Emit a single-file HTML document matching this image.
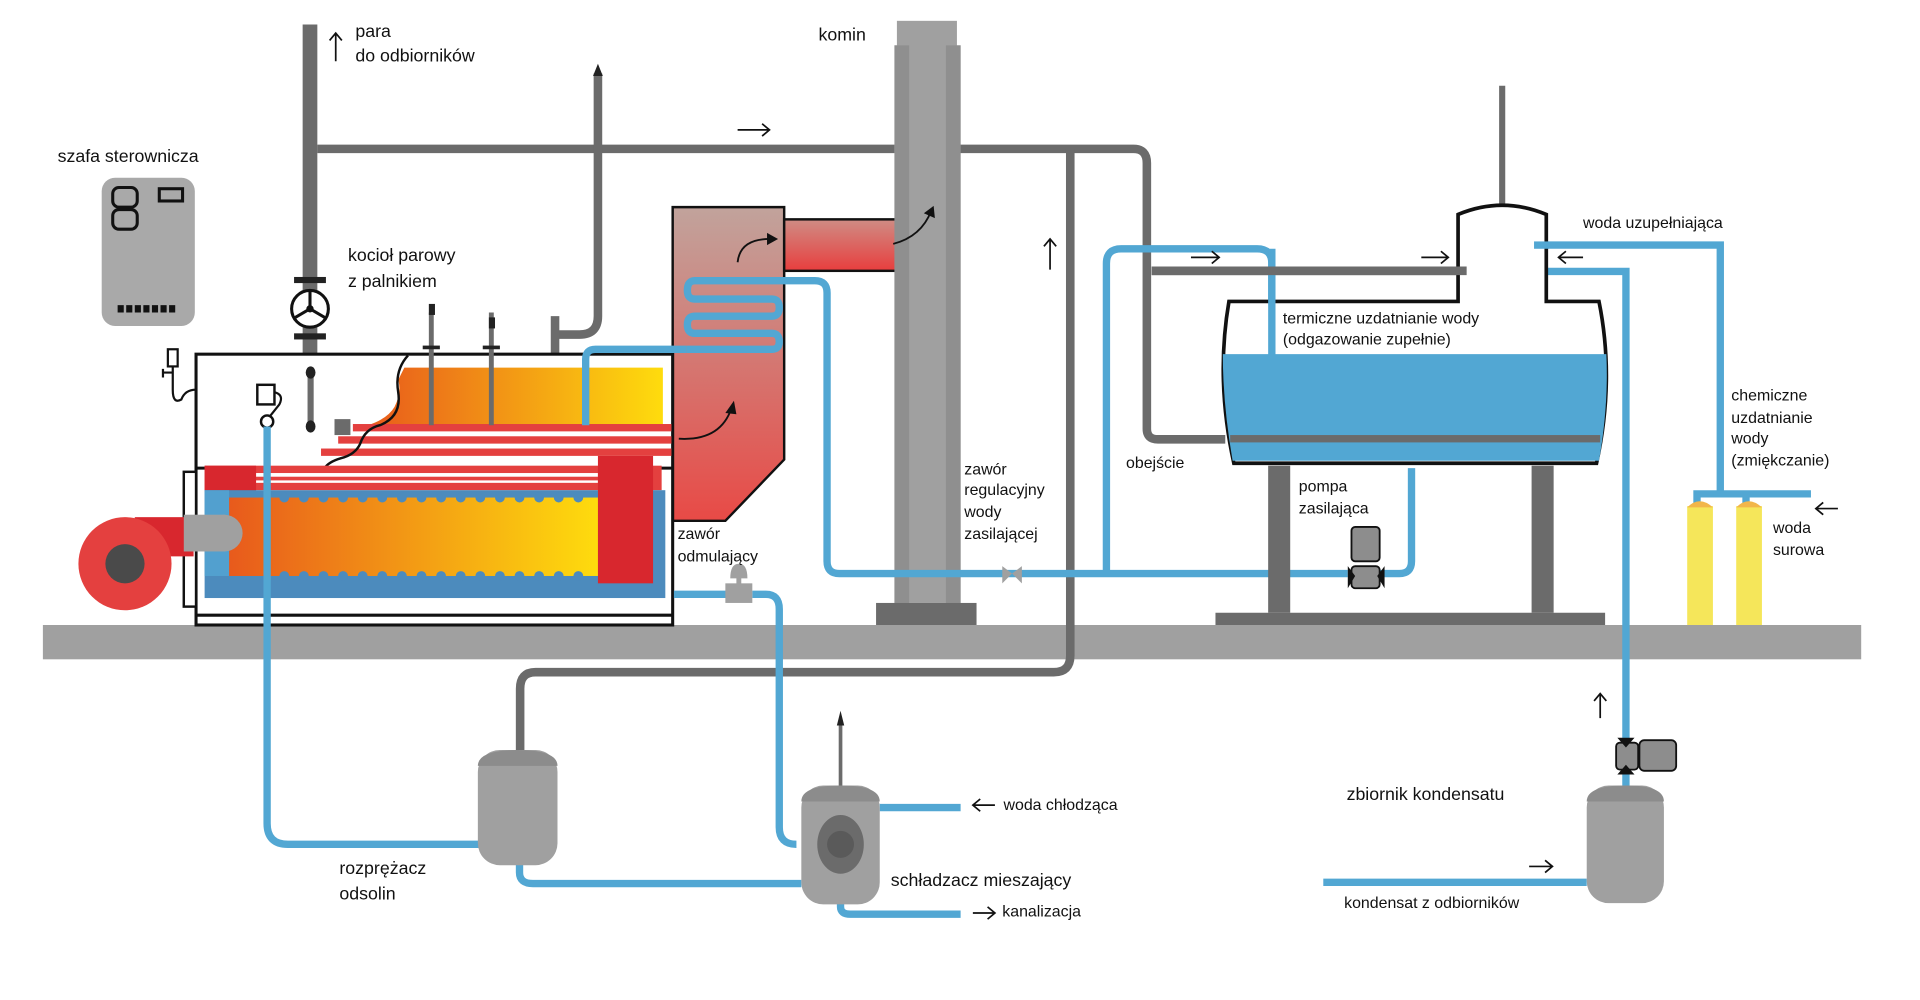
<!DOCTYPE html>
<html><head><meta charset="utf-8"><style>
html,body{margin:0;padding:0;background:#fff;}
svg{display:block;}
text{font-family:"Liberation Sans",sans-serif;font-size:14.5px;fill:#111;}
</style></head><body>
<svg width="1920" height="1000" viewBox="0 0 1567 816" preserveAspectRatio="none" xmlns="http://www.w3.org/2000/svg">
<defs>
<linearGradient id="fl" x1="0" x2="1" y1="0" y2="0"><stop offset="0" stop-color="#e85a1c"/><stop offset="1" stop-color="#fedc0d"/></linearGradient>
<linearGradient id="ec" x1="0" x2="0" y1="0" y2="1"><stop offset="0" stop-color="#c1a39c"/><stop offset="1" stop-color="#e84a46"/></linearGradient>
<linearGradient id="du" x1="0" x2="0" y1="0" y2="1"><stop offset="0" stop-color="#cf8c84"/><stop offset="1" stop-color="#e83e3e"/></linearGradient>
</defs>
<!-- ground -->
<rect x="35" y="510" width="1484" height="28" fill="#a0a0a0"/>
<!-- cabinet -->
<rect x="83" y="145" width="76" height="121" rx="11" fill="#a9a9a9"/>
<rect x="92" y="153" width="20" height="16" rx="5" fill="none" stroke="#111" stroke-width="2.5"/>
<rect x="92" y="171" width="20" height="16" rx="5" fill="none" stroke="#111" stroke-width="2.5"/>
<rect x="130" y="154" width="19" height="10" fill="none" stroke="#111" stroke-width="2.5"/>
<g fill="#111"><rect x="96" y="249" width="5" height="6"/><rect x="103" y="249" width="5" height="6"/><rect x="110" y="249" width="5" height="6"/><rect x="117" y="249" width="5" height="6"/><rect x="124" y="249" width="5" height="6"/><rect x="131" y="249" width="5" height="6"/><rect x="138" y="249" width="5" height="6"/></g>

<!-- gray steam pipes -->
<g fill="none" stroke="#6b6b6b" stroke-linecap="butt">
<path d="M253 20 V290" stroke-width="12"/>
<path d="M259 121.5 H730" stroke-width="7"/>
<path d="M783 121.5 H925 Q936 121.5 936 133 V350 Q936 358.5 945 358.5 H1000" stroke-width="7"/>
<path d="M873.5 121.5 V535 Q873.5 548.5 860 548.5 H437 Q424.5 548.5 424.5 562 V613" stroke-width="7"/>
<path d="M488 60 V258 Q488 273 473 273 H453" stroke-width="7"/>
<path d="M453 258 V298" stroke-width="7"/>
<path d="M940 221 H1197" stroke-width="7"/>
<path d="M1226 70 V172" stroke-width="5"/>
<path d="M686 592 V643" stroke-width="3"/>
</g>
<polygon points="488,52 484,62 492,62" fill="#222"/>
<polygon points="686,580 683,592 689,592" fill="#222"/>
<!-- valve wheel -->
<rect x="240" y="226" width="26" height="5" fill="#222"/><rect x="240" y="272" width="26" height="5" fill="#222"/>
<circle cx="253" cy="252" r="15" fill="#fff" stroke="#111" stroke-width="2.5"/>
<path d="M253 252 V238 M253 252 L241 259 M253 252 L265 259" stroke="#111" stroke-width="2.5"/>
<circle cx="253" cy="252" r="3" fill="#111"/>

<!-- economizer / flue -->
<polygon points="549,169 640,169 640,375 592,425 549,425" fill="url(#ec)" stroke="#111" stroke-width="2"/>
<rect x="640" y="179" width="101" height="42" fill="url(#du)" stroke="#111" stroke-width="2"/>
<!-- chimney -->
<rect x="732" y="17" width="49" height="22" fill="#a0a0a0"/>
<rect x="730" y="37" width="54" height="455" fill="#a0a0a0"/>
<rect x="730" y="37" width="12" height="455" fill="#8f8f8f"/>
<rect x="772" y="37" width="12" height="455" fill="#8f8f8f"/>
<rect x="715" y="492" width="82" height="18" fill="#6b6b6b"/>

<!-- boiler -->
<rect x="160" y="289" width="389" height="221" fill="#fff" stroke="#111" stroke-width="2.5"/>
<line x1="160" y1="382" x2="549" y2="382" stroke="#111" stroke-width="2.5"/>
<line x1="160" y1="502" x2="549" y2="502" stroke="#111" stroke-width="2.5"/>
<rect x="150" y="385" width="10" height="110" fill="#fff" stroke="#111" stroke-width="2"/>
<path d="M330 300 H541 V347 H300 Q316 342 322 332 Q328 320 325 310 Z" fill="url(#fl)"/>
<rect x="288" y="346" width="260" height="6" fill="#e4403f"/>
<rect x="276" y="356" width="272" height="6" fill="#e4403f"/>
<rect x="262" y="366" width="286" height="6" fill="#e4403f"/>
<path d="M333 290 Q322 302 325 320 Q328 340 310 347 Q298 350 294 362 Q290 371 278 374 Q268 377 265 382" fill="none" stroke="#111" stroke-width="2"/>
<rect x="273" y="342" width="13" height="13" fill="#6b6b6b"/>
<rect x="251" y="300" width="5" height="50" fill="#6b6b6b"/>
<ellipse cx="253.5" cy="304" rx="4" ry="5" fill="#222"/><ellipse cx="253.5" cy="348" rx="4" ry="5" fill="#222"/>
<path d="M352 255 V347 M401 255 V347" stroke="#6b6b6b" stroke-width="4"/>
<rect x="350" y="248" width="5" height="9" fill="#222"/><rect x="399" y="259" width="5" height="9" fill="#222"/>
<rect x="345" y="282" width="14" height="3" fill="#222"/><rect x="394" y="282" width="14" height="3" fill="#222"/>
<!-- furnace -->
<rect x="167" y="380" width="373" height="20" fill="#e4403f"/>
<rect x="208" y="386" width="280" height="3" fill="#fff"/><rect x="208" y="392" width="280" height="2" fill="#fff"/>
<rect x="167" y="380" width="42" height="21" fill="#d8272e"/>
<rect x="167" y="400" width="376" height="88" fill="#4c8bbd"/>
<rect x="167" y="400" width="20" height="70" fill="#52a0cf"/>
<rect x="187" y="406" width="302" height="64" fill="url(#fl)"/>
<g fill="#4c8bbd">
<circle cx="232" cy="406" r="4"/><circle cx="248" cy="406" r="4"/><circle cx="264" cy="406" r="4"/><circle cx="280" cy="406" r="4"/><circle cx="296" cy="406" r="4"/><circle cx="312" cy="406" r="4"/><circle cx="328" cy="406" r="4"/><circle cx="344" cy="406" r="4"/><circle cx="360" cy="406" r="4"/><circle cx="376" cy="406" r="4"/><circle cx="392" cy="406" r="4"/><circle cx="408" cy="406" r="4"/><circle cx="424" cy="406" r="4"/><circle cx="440" cy="406" r="4"/><circle cx="456" cy="406" r="4"/><circle cx="472" cy="406" r="4"/>
<circle cx="232" cy="470" r="4"/><circle cx="248" cy="470" r="4"/><circle cx="264" cy="470" r="4"/><circle cx="280" cy="470" r="4"/><circle cx="296" cy="470" r="4"/><circle cx="312" cy="470" r="4"/><circle cx="328" cy="470" r="4"/><circle cx="344" cy="470" r="4"/><circle cx="360" cy="470" r="4"/><circle cx="376" cy="470" r="4"/><circle cx="392" cy="470" r="4"/><circle cx="408" cy="470" r="4"/><circle cx="424" cy="470" r="4"/><circle cx="440" cy="470" r="4"/><circle cx="456" cy="470" r="4"/><circle cx="472" cy="470" r="4"/>
</g>
<rect x="488" y="372" width="45" height="104" fill="#d8272e"/>
<!-- burner -->
<rect x="110" y="422" width="48" height="32" fill="#d8272e"/>
<rect x="150" y="420" width="34" height="30" fill="#a0a0a0"/><circle cx="183" cy="435" r="15" fill="#a0a0a0"/>
<ellipse cx="102" cy="460" rx="38" ry="38" fill="#e4403f"/>
<ellipse cx="102" cy="460" rx="16" ry="16" fill="#4a4a4a"/>
<!-- level gauge left -->
<rect x="210" y="314" width="14" height="16" fill="#fff" stroke="#111" stroke-width="2"/>
<path d="M224 320 Q232 322 228 330 L220 340" fill="none" stroke="#111" stroke-width="1.8"/>
<circle cx="218" cy="344" r="5" fill="#fff" stroke="#111" stroke-width="2"/>
<rect x="137" y="285" width="8" height="14" fill="#fff" stroke="#111" stroke-width="1.8"/>
<path d="M141 299 V318 Q141 330 148 326 Q151 318 160 318 M133 304 H141 M133 301 V308" fill="none" stroke="#111" stroke-width="1.8"/>

<!-- blue pipes -->
<g fill="none" stroke="#52a7d3" stroke-width="6">
<path d="M218 348 V672 Q218 689 235 689 H398"/>
<path d="M478 347 V293 Q478 285 486 285 H560"/>
<path d="M560 285 H630 Q636 285 636 279 Q636 272 630 272 H567 Q561 272 561 265 Q561 258 567 258 H630 Q636 258 636 251 Q636 244 630 244 H567 Q561 244 561 237 Q561 229 567 229 H665 Q675 229 675 239 V458 Q675 468 685 468 H1100"/>
<path d="M1125 468 H1142 Q1152 468 1152 458 V382"/>
<path d="M903 470 V215 Q903 203 915 203 H1026 Q1038 203 1038 215 V290"/>
<path d="M1258 200 H1404 V400 M1385 412 V403 H1478 M1425 403 V412"/>
<path d="M1258 221.5 H1327 V608 M1327 626 V642"/>
<path d="M550 485 H598 M614 485 H625 Q636 485 636 497 V675 Q636 689 650 689"/>
<path d="M424 705 V712 Q424 721 435 721 H654"/>
<path d="M718 659 H784"/>
<path d="M686 737 V740 Q686 746 694 746 H784"/>
<path d="M1080 720 H1295"/>
</g>
<!-- pump valve -->
<rect x="592" y="476" width="22" height="16" fill="#a0a0a0"/>
<path d="M596 472 Q596 460 603 460 Q610 460 610 472 Z" fill="#a0a0a0"/><rect x="601" y="470" width="4" height="8" fill="#a0a0a0"/>
<path d="M818 462 L826 468 L818 476 Z M834 462 L826 468 L834 476 Z" fill="#a0a0a0"/>
<!-- deaerator tank -->
<path d="M1003 246 H1190 V175 Q1226 160 1262 175 V246 H1305 Q1318 310 1303 378 H1007 Q992 310 1003 246 Z" fill="#fff" stroke="#111" stroke-width="3"/>
<path d="M998 289 H1311 Q1313 330 1305 376 H1006 Q998 330 998 289 Z" fill="#52a7d3"/>
<rect x="1004" y="355" width="302" height="6" fill="#6b6b6b"/>
<rect x="1035" y="380" width="18" height="120" fill="#6b6b6b"/>
<rect x="1250" y="380" width="18" height="120" fill="#6b6b6b"/>
<rect x="992" y="500" width="318" height="10" fill="#6b6b6b"/>
<path d="M1038 203 V290" stroke="#52a7d3" stroke-width="6"/>
<path d="M940 221 H1197" stroke="#6b6b6b" stroke-width="7"/>
<rect x="1252" y="197" width="12" height="6" fill="#52a7d3"/>
<!-- feed pump -->
<rect x="1103" y="430" width="23" height="28" rx="3" fill="#8d8d8d" stroke="#111" stroke-width="1.5"/>
<rect x="1103" y="462" width="23" height="18" rx="3" fill="#8d8d8d" stroke="#111" stroke-width="1.5"/>
<path d="M1100 462 L1106 470 L1100 480 Z M1130 462 L1124 470 L1130 480 Z" fill="#111"/>
<!-- softeners -->
<rect x="1377" y="413" width="21" height="97" fill="#f5e65a"/>
<rect x="1417" y="413" width="21" height="97" fill="#f5e65a"/>
<path d="M1377 414 Q1387 404 1398 414 Z M1417 414 Q1427 404 1438 414 Z" fill="#f2b64a"/>
<!-- lower vessels -->
<rect x="390" y="612" width="65" height="94" rx="18" fill="#a0a0a0"/>
<path d="M390 625 Q390 612 422 612 Q455 612 455 625 Z" fill="#8c8c8c"/>
<rect x="654" y="641" width="64" height="97" rx="18" fill="#a0a0a0"/>
<path d="M654 654 Q654 641 686 641 Q718 641 718 654 Z" fill="#8c8c8c"/>
<ellipse cx="686" cy="689" rx="19" ry="24" fill="#6b6b6b"/>
<circle cx="686" cy="689" r="11" fill="#5a5a5a"/>
<rect x="1295" y="641" width="63" height="96" rx="18" fill="#a0a0a0"/>
<path d="M1295 654 Q1295 641 1327 641 Q1358 641 1358 654 Z" fill="#8c8c8c"/>
<!-- condensate pump -->
<rect x="1319" y="606" width="18" height="22" rx="3" fill="#8d8d8d" stroke="#111" stroke-width="1.5"/>
<rect x="1338" y="604" width="30" height="25" rx="4" fill="#8d8d8d" stroke="#111" stroke-width="1.5"/>
<path d="M1320 602 L1334 602 L1327 610 Z M1320 632 L1334 632 L1327 624 Z" fill="#111"/>

<!-- curved flue arrows -->
<g fill="none" stroke="#111" stroke-width="1.5">
<path d="M554 358 Q588 360 597 333"/>
<path d="M602 214 Q604 195 628 195"/>
<path d="M729 199 Q752 193 760 172"/>
</g>
<g fill="#111"><polygon points="599,327 592,337 601,338"/><polygon points="635,195 626,190 626,200"/><polygon points="762,168 754,174 763,178"/></g>

<!-- straight arrows -->
<g fill="none" stroke="#111" stroke-width="1.4">
<path d="M274 50 V27 M269 33 L274 27 L279 33"/>
<path d="M602 106 H628 M622 101 L628 106 L622 111"/>
<path d="M857 220 V195 M852 201 L857 195 L862 201"/>
<path d="M972 210 H995 M989 205 L995 210 L989 215"/>
<path d="M1160 210 H1182 M1176 205 L1182 210 L1176 215"/>
<path d="M1292 210 H1272 M1278 205 L1272 210 L1278 215"/>
<path d="M1500 415 H1482 M1488 410 L1482 415 L1488 420"/>
<path d="M1306 586 V566 M1301 572 L1306 566 L1311 572"/>
<path d="M812 657 H794 M800 652 L794 657 L800 662"/>
<path d="M794 745 H812 M806 740 L812 745 L806 750"/>
<path d="M1248 707 H1267 M1261 702 L1267 707 L1261 712"/>
</g>

<!-- labels -->
<text x="290" y="30">para</text>
<text x="290" y="50">do odbiorników</text>
<text x="668" y="33">komin</text>
<text x="47" y="132">szafa sterownicza</text>
<text x="284" y="213">kocioł parowy</text>
<text x="284" y="234">z palnikiem</text>
<text x="1292" y="186" style="font-size:13px">woda uzupełniająca</text>
<text x="1047" y="264" style="font-size:13px">termiczne uzdatnianie wody</text>
<text x="1047" y="281" style="font-size:13px">(odgazowanie zupełnie)</text>
<text x="1413" y="327" style="font-size:13px">chemiczne</text>
<text x="1413" y="345" style="font-size:13px">uzdatnianie</text>
<text x="1413" y="362" style="font-size:13px">wody</text>
<text x="1413" y="380" style="font-size:13px">(zmiękczanie)</text>
<text x="919" y="382" style="font-size:13px">obejście</text>
<text x="787" y="387" style="font-size:13px">zawór</text>
<text x="787" y="404" style="font-size:13px">regulacyjny</text>
<text x="787" y="422" style="font-size:13px">wody</text>
<text x="787" y="440" style="font-size:13px">zasilającej</text>
<text x="1060" y="401" style="font-size:13px">pompa</text>
<text x="1060" y="419" style="font-size:13px">zasilająca</text>
<text x="553" y="440" style="font-size:13px">zawór</text>
<text x="553" y="458" style="font-size:13px">odmulający</text>
<text x="1447" y="435" style="font-size:13px">woda</text>
<text x="1447" y="453" style="font-size:13px">surowa</text>
<text x="819" y="661" style="font-size:13px">woda chłodząca</text>
<text x="1099" y="653">zbiornik kondensatu</text>
<text x="277" y="713">rozprężacz</text>
<text x="277" y="734">odsolin</text>
<text x="727" y="723">schładzacz mieszający</text>
<text x="818" y="748" style="font-size:13px">kanalizacja</text>
<text x="1097" y="741" style="font-size:13px">kondensat z odbiorników</text>
</svg>
</body></html>
